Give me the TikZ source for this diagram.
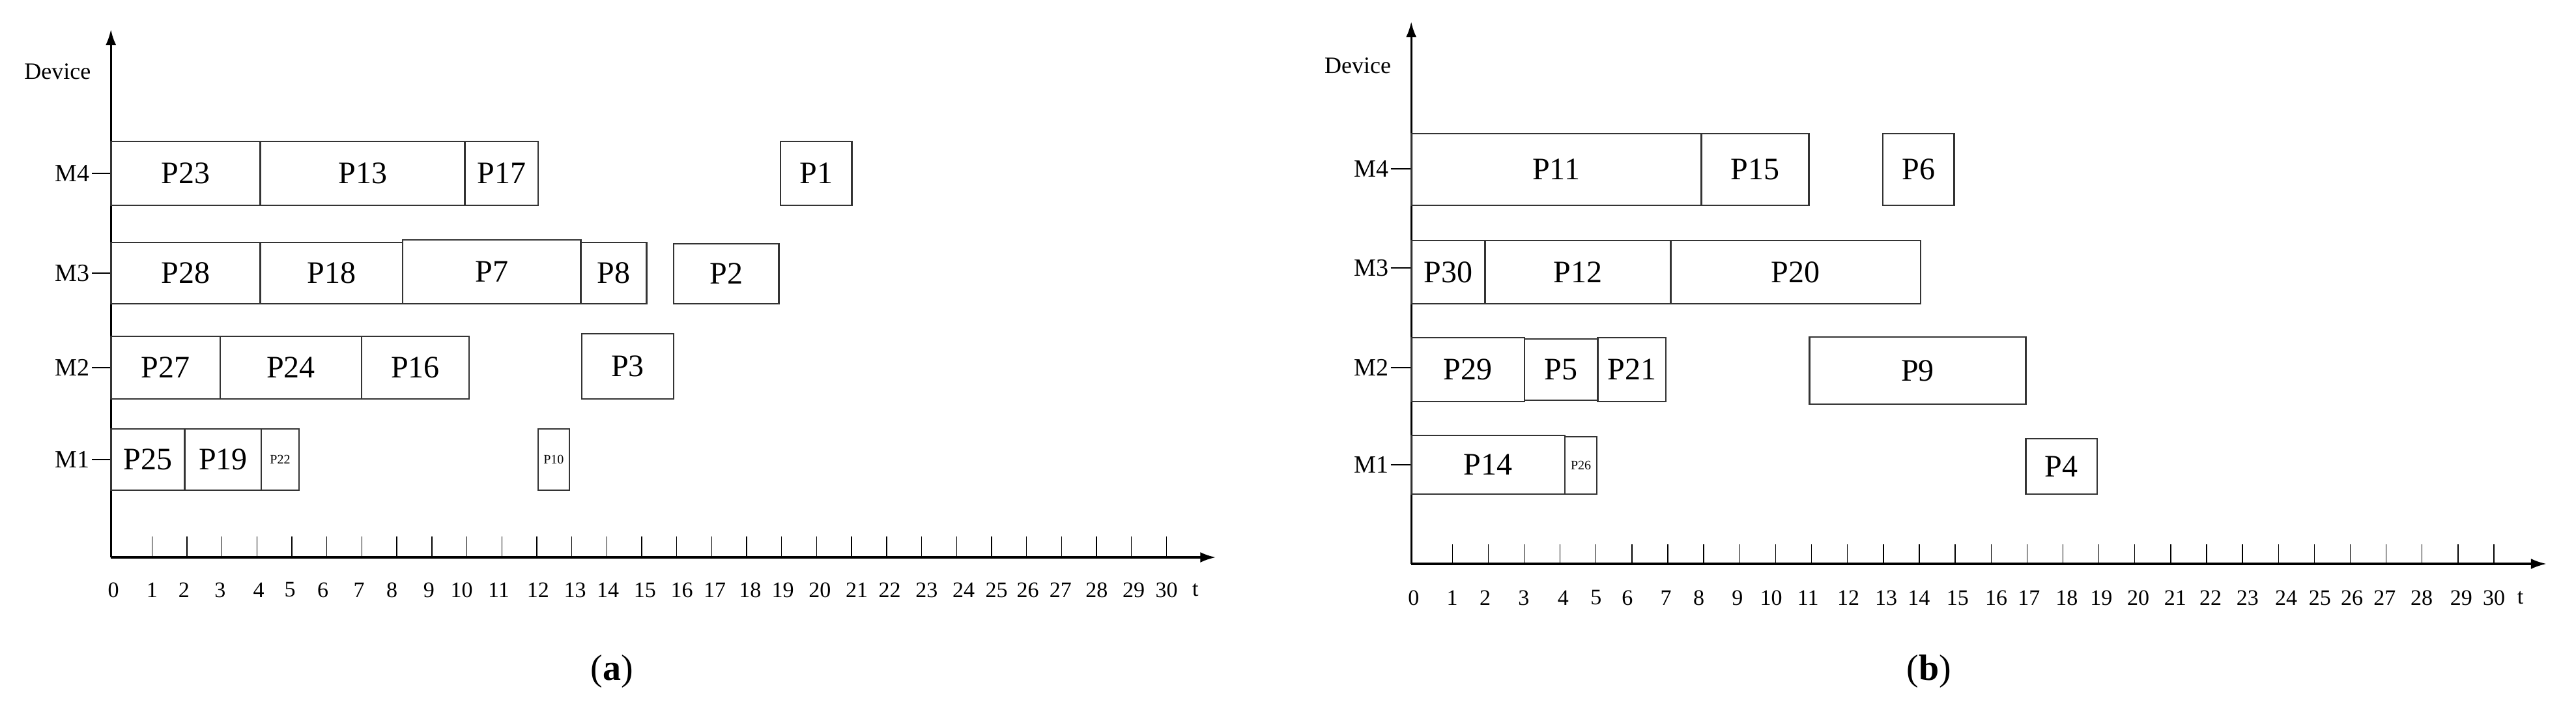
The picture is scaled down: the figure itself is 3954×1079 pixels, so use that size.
\documentclass[tikz,border=0pt]{standalone}
\usepackage{fontspec}
\setmainfont{Liberation Serif}
\newcommand{\jobbox}[6]{%
  \draw[boxline] (#1,#3) rectangle (#2,#4);
  \path (#1,#3) -- (#2,#4) node[midway,font=#6] {#5};}
\tikzset{boxline/.style={line width=2.6pt,draw=black!80},
  axisline/.style={line width=3.2pt,-{Latex[length=24pt,width=16pt]}},
  ticklab/.style={font=\fontsize{34}{34}\selectfont,anchor=center},
  big/.style={font=\fontsize{50}{50}\selectfont}}
\usetikzlibrary{arrows.meta}
\begin{document}
\begin{tikzpicture}[x=1pt,y=-1pt]
\useasboundingbox (0,0) rectangle (3954,1079);
\def\B{\fontsize{48}{48}\selectfont}
\def\S{\fontsize{20}{20}\selectfont}
% ---------- left (a) ----------
\begin{scope}[xscale=1.261]
\draw[axisline] (135,855) -- (1480,855);
\draw[axisline] (135,855) -- (135,45);
\foreach \k in {0,...,29} \draw[line width=1.4pt] ({185+\k*42.58},823) -- ({185+\k*42.58},855);
\foreach \x/\l in {138/0,185/1,224/2,268/3,315/4,353/5,393/6,437/7,477/8,522/9,562/10,607/11,655/12,700/13,740/14,785/15,830/16,870/17,913/18,953/19,998/20,1043/21,1083/22,1128/23,1173/24,1213/25,1251/26,1291/27,1335/28,1380/29,1420/30,1455/t}
  \node[ticklab] at (\x,905) {\l};
\node[font=\fontsize{36}{36}\selectfont] at (70,110) {Device};
\foreach \y/\l in {266/M4,419/M3,564/M2,705/M1}{
  \node[font=\fontsize{38}{38}\selectfont,anchor=east] at (112,\y) {\l};
  \draw[line width=2pt] (112,\y) -- (135,\y);}
\jobbox{135}{317}{217}{315}{P23}{\B}
\jobbox{317}{566}{217}{315}{P13}{\B}
\jobbox{566}{655}{217}{315}{P17}{\B}
\jobbox{950}{1037}{217}{315}{P1}{\B}
\jobbox{135}{317}{372}{466}{P28}{\B}
\jobbox{317}{490}{372}{466}{P18}{\B}
\jobbox{490}{707}{368}{466}{P7}{\B}
\jobbox{707}{787}{372}{466}{P8}{\B}
\jobbox{820}{948}{374}{466}{P2}{\B}
\jobbox{135}{268}{516}{612}{P27}{\B}
\jobbox{268}{440}{516}{612}{P24}{\B}
\jobbox{440}{571}{516}{612}{P16}{\B}
\jobbox{708}{820}{512}{612}{P3}{\B}
\jobbox{135}{225}{658}{752}{P25}{\B}
\jobbox{225}{318}{658}{752}{P19}{\B}
\jobbox{318}{364}{658}{752}{P22}{\S}
\jobbox{655}{693}{658}{752}{P10}{\S}
\node[font=\fontsize{56}{56}\selectfont] at (745,1030) {(\textbf{a})};
\end{scope}
% ---------- right (b) ----------
\begin{scope}[xshift=1977pt,xscale=1.261]
\draw[axisline] (150,865) -- (1532,865);
\draw[axisline] (150,865) -- (150,33);
\foreach \k in {0,...,29} \draw[line width=1.4pt] ({200+\k*43.72},835) -- ({200+\k*43.72},865);
\foreach \x/\l in {153/0,200/1,240/2,287/3,335/4,375/5,413/6,460/7,500/8,547/9,588/10,633/11,682/12,728/13,768/14,815/15,862/16,902/17,948/18,990/19,1035/20,1080/21,1123/22,1168/23,1215/24,1256/25,1295/26,1335/27,1380/28,1428/29,1468/30,1500/t}
  \node[ticklab] at (\x,917) {\l};
\node[font=\fontsize{36}{36}\selectfont] at (85,101) {Device};
\foreach \y/\l in {259/M4,411/M3,564/M2,713/M1}{
  \node[font=\fontsize{38}{38}\selectfont,anchor=east] at (125,\y) {\l};
  \draw[line width=2pt] (125,\y) -- (150,\y);}
\jobbox{150}{503}{205}{315}{P11}{\B}
\jobbox{503}{634}{205}{315}{P15}{\B}
\jobbox{724}{811}{205}{315}{P6}{\B}
\jobbox{150}{240}{369}{466}{P30}{\B}
\jobbox{240}{466}{369}{466}{P12}{\B}
\jobbox{466}{770}{369}{466}{P20}{\B}
\jobbox{150}{288}{518}{616}{P29}{\B}
\jobbox{288}{377}{520}{614}{P5}{\B}
\jobbox{377}{460}{518}{616}{P21}{\B}
\jobbox{635}{898}{517}{620}{P9}{\B}
\jobbox{150}{337}{668}{758}{P14}{\B}
\jobbox{337}{376}{670}{758}{P26}{\S}
\jobbox{898}{985}{673}{758}{P4}{\B}
\node[font=\fontsize{56}{56}\selectfont] at (780,1030) {(\textbf{b})};
\end{scope}
\end{tikzpicture}
\end{document}
